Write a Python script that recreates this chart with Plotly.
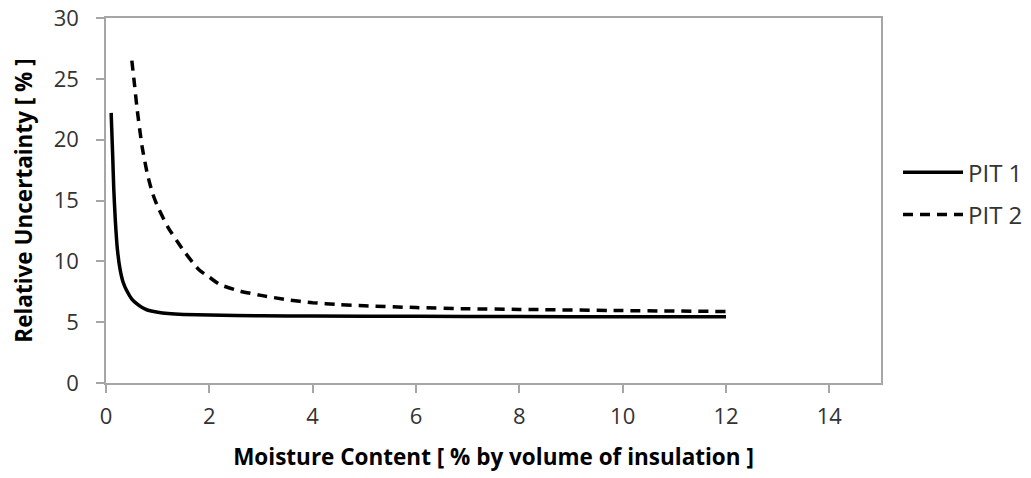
import plotly.graph_objects as go

# Moisture content (% by volume) and relative uncertainty (%) for each pit
pit1_x = [0.1, 0.11, 0.12, 0.13, 0.15, 0.18, 0.22, 0.27, 0.33, 0.4, 0.5, 0.6,
          0.7, 0.8, 0.9, 1.0, 1.2, 1.5, 2.0, 3.0, 4.0, 6.0, 8.0, 10.0, 12.0]
pit1_y = [22.2, 21.0, 19.8, 18.6, 16.0, 13.4, 11.0, 9.4, 8.3, 7.6, 6.9, 6.5,
          6.2, 6.0, 5.9, 5.82, 5.72, 5.64, 5.58, 5.53, 5.5, 5.48, 5.46, 5.45, 5.44]

pit2_x = [0.5, 0.55, 0.6, 0.7, 0.8, 0.9, 1.0, 1.2, 1.5, 1.8, 2.0, 2.2, 2.6,
          3.0, 3.5, 4.0, 4.5, 5.0, 6.0, 7.0, 8.0, 10.0, 12.0]
pit2_y = [26.5, 24.6, 22.6, 19.4, 17.2, 15.6, 14.5, 12.8, 10.9, 9.3, 8.7, 8.1,
          7.55, 7.2, 6.85, 6.6, 6.45, 6.35, 6.2, 6.1, 6.05, 5.95, 5.88]

x_ticks = [0, 2, 4, 6, 8, 10, 12, 14]
y_ticks = [0, 5, 10, 15, 20, 25, 30]

FONT = "Open Sans"
AXIS_GREY = "#a6a6a6"

fig = go.Figure()
fig.add_trace(go.Scatter(x=pit1_x, y=pit1_y, mode="lines", name="PIT 1", legendgroup="a",
                         line=dict(color="black", width=3.5, shape="spline", smoothing=0.6)))
fig.add_trace(go.Scatter(x=pit2_x, y=pit2_y, mode="lines", name="PIT 2", legendgroup="b",
                         line=dict(color="black", width=3.5, dash="10px,7px",
                                   shape="spline", smoothing=0.6)))

axis_common = dict(
    showline=True, linecolor=AXIS_GREY, linewidth=1.5, mirror=True,
    showgrid=False, zeroline=False, automargin=False,
    ticks="outside", ticklen=8, tickwidth=1.5, tickcolor=AXIS_GREY,
    tickfont=dict(family=FONT, size=22, color="#333333"),
)

fig.update_xaxes(range=[0, 15], tickvals=x_ticks, ticklabelstandoff=5,
                 title=dict(text="<b>Moisture Content [ % by volume of insulation ]</b>",
                            font=dict(family=FONT, size=22.5, color="black"), standoff=20),
                 **axis_common)
fig.update_yaxes(range=[0, 30], tickvals=y_ticks, ticklabelstandoff=13,
                 title=dict(text="<b>Relative Uncertainty [ % ]</b>",
                            font=dict(family=FONT, size=22.5, color="black"), standoff=15),
                 **axis_common)

fig.update_layout(
    width=1031, height=478,
    margin=dict(l=106, r=150, t=18, b=95),
    plot_bgcolor="white", paper_bgcolor="white",
    font=dict(family=FONT, color="#333333"),
    legend=dict(xref="container", yref="container", x=0.871, y=0.595,
                xanchor="left", yanchor="middle",
                font=dict(family=FONT, size=24, color="#333333"),
                itemwidth=60, tracegroupgap=8, bgcolor="rgba(0,0,0,0)"),
)

fig.write_html("out.html")
